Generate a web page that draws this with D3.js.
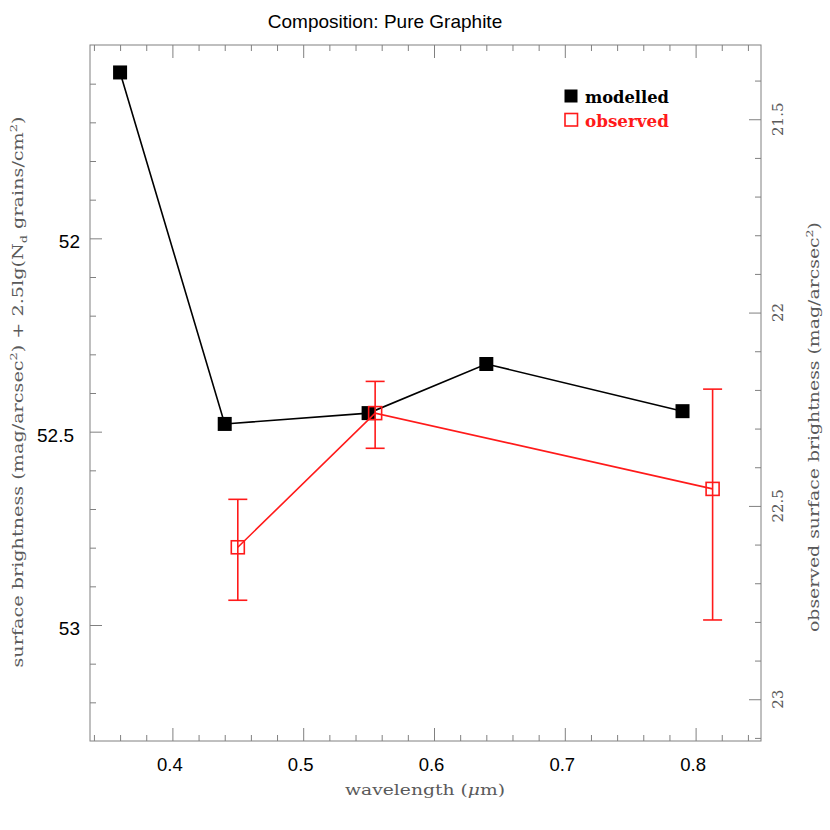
<!DOCTYPE html>
<html>
<head>
<meta charset="utf-8">
<script src="https://cdn.jsdelivr.net/npm/d3@7"></script>
<style>
  html, body { margin: 0; padding: 0; background: #fff; }
  svg { display: block; }
</style>
</head>
<body>
<svg id="chart" width="830" height="830"></svg>
<script>
// ---- data ----
const modelledWavelength = [0.36, 0.44, 0.55, 0.64, 0.79];
const modelledSB = [51.571, 52.480, 52.452, 52.325, 52.447];

const observedWavelength = [0.45, 0.555, 0.813];
const observedSB = [22.607, 22.260, 22.456];
const observedErrLow = [0.124, 0.082, 0.258];
const observedErrHigh = [0.137, 0.091, 0.339];

const leftMajorTicks = [52, 52.5, 53];
const rightMajorTicks = [21.5, 22, 22.5, 23];
const xMajorTicks = [0.4, 0.5, 0.6, 0.7, 0.8];

const titleText = "Composition: Pure Graphite";
const legendLabels = ["modelled", "observed"];

// ---- layout ----
const L = 90, R = 761, T = 45, B = 741;
const svg = d3.select("#chart");
const frameColor = "#808080";
const labelGray = "#5a5a5a";

const x = d3.scaleLinear().domain([0.337, 0.85]).range([L, R]);
const yL = d3.scaleLinear().domain([51.5, 53.3]).range([T, B]);
const yR = d3.scaleLinear().domain([21.308, 23.108]).range([T, B]);

const range = (a, b, s) => d3.range(Math.round(a / s), Math.round(b / s) + 1).map(i => +(i * s).toFixed(4));
const xMinor = range(0.34, 0.84, 0.02).filter(v => !xMajorTicks.includes(v));
const yLMinor = range(51.6, 53.2, 0.1).filter(v => !leftMajorTicks.includes(v));
const yRMinor = range(21.4, 23.1, 0.1).filter(v => !rightMajorTicks.includes(v) && v > 21.31);

function styleAxis(g) {
  g.select(".domain").remove();
  g.selectAll(".tick line").attr("stroke", frameColor).attr("stroke-width", 1);
}

// bottom axis
svg.append("g").attr("transform", `translate(0,${B})`)
  .call(d3.axisBottom(x).tickValues(xMinor).tickSize(-6).tickFormat(""))
  .call(styleAxis);
const gxb = svg.append("g").attr("transform", `translate(0,${B})`)
  .call(d3.axisBottom(x).tickValues(xMajorTicks).tickSize(-13).tickPadding(17).tickFormat(d3.format(".1f")))
  .call(styleAxis);
gxb.selectAll(".tick text").attr("font-family", "Liberation Sans, Arial, sans-serif")
  .attr("font-size", 18.5).attr("fill", "#000").attr("dx", -3);

// top axis
svg.append("g").attr("transform", `translate(0,${T})`)
  .call(d3.axisTop(x).tickValues(xMinor).tickSize(-6).tickFormat(""))
  .call(styleAxis);
svg.append("g").attr("transform", `translate(0,${T})`)
  .call(d3.axisTop(x).tickValues(xMajorTicks).tickSize(-13).tickFormat(""))
  .call(styleAxis);

// left axis
svg.append("g").attr("transform", `translate(${L},0)`)
  .call(d3.axisLeft(yL).tickValues(yLMinor).tickSize(-6).tickFormat(""))
  .call(styleAxis);
const gyl = svg.append("g").attr("transform", `translate(${L},0)`)
  .call(d3.axisLeft(yL).tickValues(leftMajorTicks).tickSize(-12).tickPadding(10).tickFormat(d => String(d)))
  .call(styleAxis);
gyl.selectAll(".tick text").attr("font-family", "Liberation Sans, Arial, sans-serif")
  .attr("font-size", 19).attr("fill", "#000").attr("dy", "0.5em")
  .attr("dx", d => (String(d).includes(".") ? -6 : 0));

// right axis
svg.append("g").attr("transform", `translate(${R},0)`)
  .call(d3.axisRight(yR).tickValues(yRMinor).tickSize(-6).tickFormat(""))
  .call(styleAxis);
svg.append("g").attr("transform", `translate(${R},0)`)
  .call(d3.axisRight(yR).tickValues(rightMajorTicks).tickSize(-12).tickFormat(""))
  .call(styleAxis);
svg.append("g").selectAll("text").data(rightMajorTicks).join("text")
  .attr("transform", d => `translate(778,${yR(d)}) rotate(-90)`)
  .attr("text-anchor", "middle").attr("dy", "0.35em")
  .attr("font-family", "DejaVu Serif, serif").attr("font-size", 15)
  .attr("fill", labelGray)
  .text(d => String(d));

// frame
svg.append("rect").attr("x", L).attr("y", T).attr("width", R - L).attr("height", B - T)
  .attr("fill", "none").attr("stroke", frameColor).attr("stroke-width", 1);

// title
svg.append("text").attr("x", 385).attr("y", 28).attr("text-anchor", "middle")
  .attr("font-family", "Liberation Sans, Arial, sans-serif").attr("font-size", 19)
  .attr("fill", "#000").text(titleText);

// x axis title
const xt = svg.append("text").attr("x", 425).attr("y", 795).attr("text-anchor", "middle")
  .attr("font-family", "DejaVu Serif, serif").attr("font-size", 15).attr("fill", labelGray)
  .attr("textLength", 160).attr("lengthAdjust", "spacingAndGlyphs");
xt.append("tspan").text("wavelength (");
xt.append("tspan").attr("font-style", "italic").text("\u03bc");
xt.append("tspan").text("m)");

// left axis title
const lt = svg.append("text").attr("transform", "translate(23,392) rotate(-90)")
  .attr("text-anchor", "middle").attr("font-family", "DejaVu Serif, serif")
  .attr("font-size", 15).attr("fill", labelGray)
  .attr("textLength", 551).attr("lengthAdjust", "spacingAndGlyphs");
lt.append("tspan").text("surface brightness (mag/arcsec");
lt.append("tspan").attr("font-size", 10).attr("dy", -6).text("2");
lt.append("tspan").attr("dy", 6).text(") + 2.5lg(N");
lt.append("tspan").attr("font-size", 10).attr("dy", 4).text("d");
lt.append("tspan").attr("dy", -4).text(" grains/cm");
lt.append("tspan").attr("font-size", 10).attr("dy", -6).text("2");
lt.append("tspan").attr("dy", 6).text(")");

// right axis title
const rt = svg.append("text").attr("transform", "translate(819,427) rotate(-90)")
  .attr("text-anchor", "middle").attr("font-family", "DejaVu Serif, serif")
  .attr("font-size", 15).attr("fill", labelGray)
  .attr("textLength", 410).attr("lengthAdjust", "spacingAndGlyphs");
rt.append("tspan").text("observed surface brightness (mag/arcsec");
rt.append("tspan").attr("font-size", 10).attr("dy", -6).text("2");
rt.append("tspan").attr("dy", 6).text(")");

// modelled series
const modelled = modelledWavelength.map((w, i) => ({ w, v: modelledSB[i] }));
svg.append("path").datum(modelled)
  .attr("d", d3.line().x(d => x(d.w)).y(d => yL(d.v)))
  .attr("fill", "none").attr("stroke", "#000").attr("stroke-width", 1.6);
svg.append("g").selectAll("rect").data(modelled).join("rect")
  .attr("x", d => x(d.w) - 7).attr("y", d => yL(d.v) - 7)
  .attr("width", 14).attr("height", 14).attr("fill", "#000");

// observed series
const observed = observedWavelength.map((w, i) => ({
  w, v: observedSB[i], lo: observedSB[i] - observedErrLow[i], hi: observedSB[i] + observedErrHigh[i]
}));
const red = "#ff1a1a";
svg.append("path").datum(observed)
  .attr("d", d3.line().x(d => x(d.w)).y(d => yR(d.v)))
  .attr("fill", "none").attr("stroke", red).attr("stroke-width", 1.6);
const eb = svg.append("g").attr("stroke", red).attr("stroke-width", 1.6);
eb.selectAll("line.v").data(observed).join("line").attr("class", "v")
  .attr("x1", d => x(d.w)).attr("x2", d => x(d.w))
  .attr("y1", d => yR(d.lo)).attr("y2", d => yR(d.hi));
eb.selectAll("line.t").data(observed).join("line").attr("class", "t")
  .attr("x1", d => x(d.w) - 9.5).attr("x2", d => x(d.w) + 9.5)
  .attr("y1", d => yR(d.lo)).attr("y2", d => yR(d.lo));
eb.selectAll("line.b").data(observed).join("line").attr("class", "b")
  .attr("x1", d => x(d.w) - 9.5).attr("x2", d => x(d.w) + 9.5)
  .attr("y1", d => yR(d.hi)).attr("y2", d => yR(d.hi));
svg.append("g").selectAll("rect").data(observed).join("rect")
  .attr("x", d => x(d.w) - 6.5).attr("y", d => yR(d.v) - 6.5)
  .attr("width", 13).attr("height", 13).attr("fill", "none")
  .attr("stroke", red).attr("stroke-width", 1.6);

// legend
const lg = svg.append("g");
lg.append("rect").attr("x", 564.5).attr("y", 89.5).attr("width", 13).attr("height", 13).attr("fill", "#000");
lg.append("rect").attr("x", 565).attr("y", 113.5).attr("width", 12.5).attr("height", 12.5)
  .attr("fill", "none").attr("stroke", red).attr("stroke-width", 1.6);
lg.selectAll("text").data(legendLabels).join("text")
  .attr("x", 585).attr("y", (d, i) => 103 + i * 24)
  .attr("font-family", "DejaVu Serif, serif").attr("font-weight", "bold")
  .attr("font-size", 16).attr("fill", (d, i) => i === 0 ? "#000" : red)
  .attr("textLength", 84).attr("lengthAdjust", "spacingAndGlyphs")
  .text(d => d);
</script>
</body>
</html>
